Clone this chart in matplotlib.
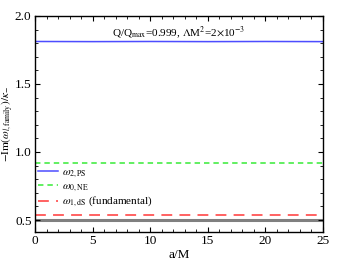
import matplotlib
matplotlib.use("Agg")
import matplotlib.pyplot as plt
from matplotlib.ticker import MultipleLocator

plt.rcParams['font.family'] = ['Liberation Serif', 'DejaVu Serif']
plt.rcParams['mathtext.fontset'] = 'stix'

a_over_M = [0, 5, 10, 15, 20, 25]
omega_2_PS = [1.812, 1.811, 1.812, 1.811, 1.812, 1.811]
omega_0_NE = [0.917, 0.917, 0.917, 0.917, 0.917, 0.917]
omega_1_dS = [0.537, 0.537, 0.537, 0.537, 0.537, 0.537]
reference_level = [0.5, 0.5, 0.5, 0.5, 0.5, 0.5]

fig = plt.figure(figsize=(3.4, 2.65), dpi=100)
ax = fig.add_axes([0.103, 0.125, 0.847, 0.815])

ax.plot(a_over_M, reference_level, color='#808080', lw=2.2, zorder=1)
ax.plot(a_over_M, omega_2_PS, color='#4d4dff', lw=1.1, label=r'$\omega_{2,\mathrm{PS}}$')
ax.plot(a_over_M, omega_0_NE, color='#55ee55', lw=1.3, ls=(0, (3, 2.2)), label=r'$\omega_{0,\mathrm{NE}}$')
ax.plot(a_over_M, omega_1_dS, color='#ff5555', lw=1.3, ls=(0, (6, 4)), label=r'$\omega_{1,\mathrm{dS}}$ (fundamental)')

ax.set_xlim(0, 25)
ax.set_ylim(0.413, 2.0)
ax.xaxis.set_major_locator(MultipleLocator(5))
ax.xaxis.set_minor_locator(MultipleLocator(1))
ax.yaxis.set_major_locator(MultipleLocator(0.5))
ax.yaxis.set_minor_locator(MultipleLocator(0.1))
ax.tick_params(which='both', direction='in', top=True, right=True, labelsize=9.5, pad=2.5)
ax.tick_params(which='major', length=3.5)
ax.tick_params(which='minor', length=2)
for s in ax.spines.values():
    s.set_linewidth(1.0)

ax.set_xlabel('a/M', fontsize=9.5, labelpad=1)
ax.set_ylabel(r'$-\mathrm{Im}(\omega_{l,\mathrm{family}})/\kappa_{-}$', fontsize=8)
ax.yaxis.set_label_coords(-0.066, 0.5)

ax.text(0.5, 0.96, r'Q/Q$_{\mathrm{max}}$=0.999, $\Lambda$M$^{2}$=2$\times$10$^{-3}$',
        transform=ax.transAxes, ha='center', va='top', fontsize=8)

leg = ax.legend(loc='lower left', bbox_to_anchor=(0.0, 0.09), frameon=False, fontsize=8,
                handlelength=1.8, handletextpad=0.3, labelspacing=0.1, borderaxespad=0.1,
                borderpad=0.2)

fig.savefig('out.png', dpi=100)
